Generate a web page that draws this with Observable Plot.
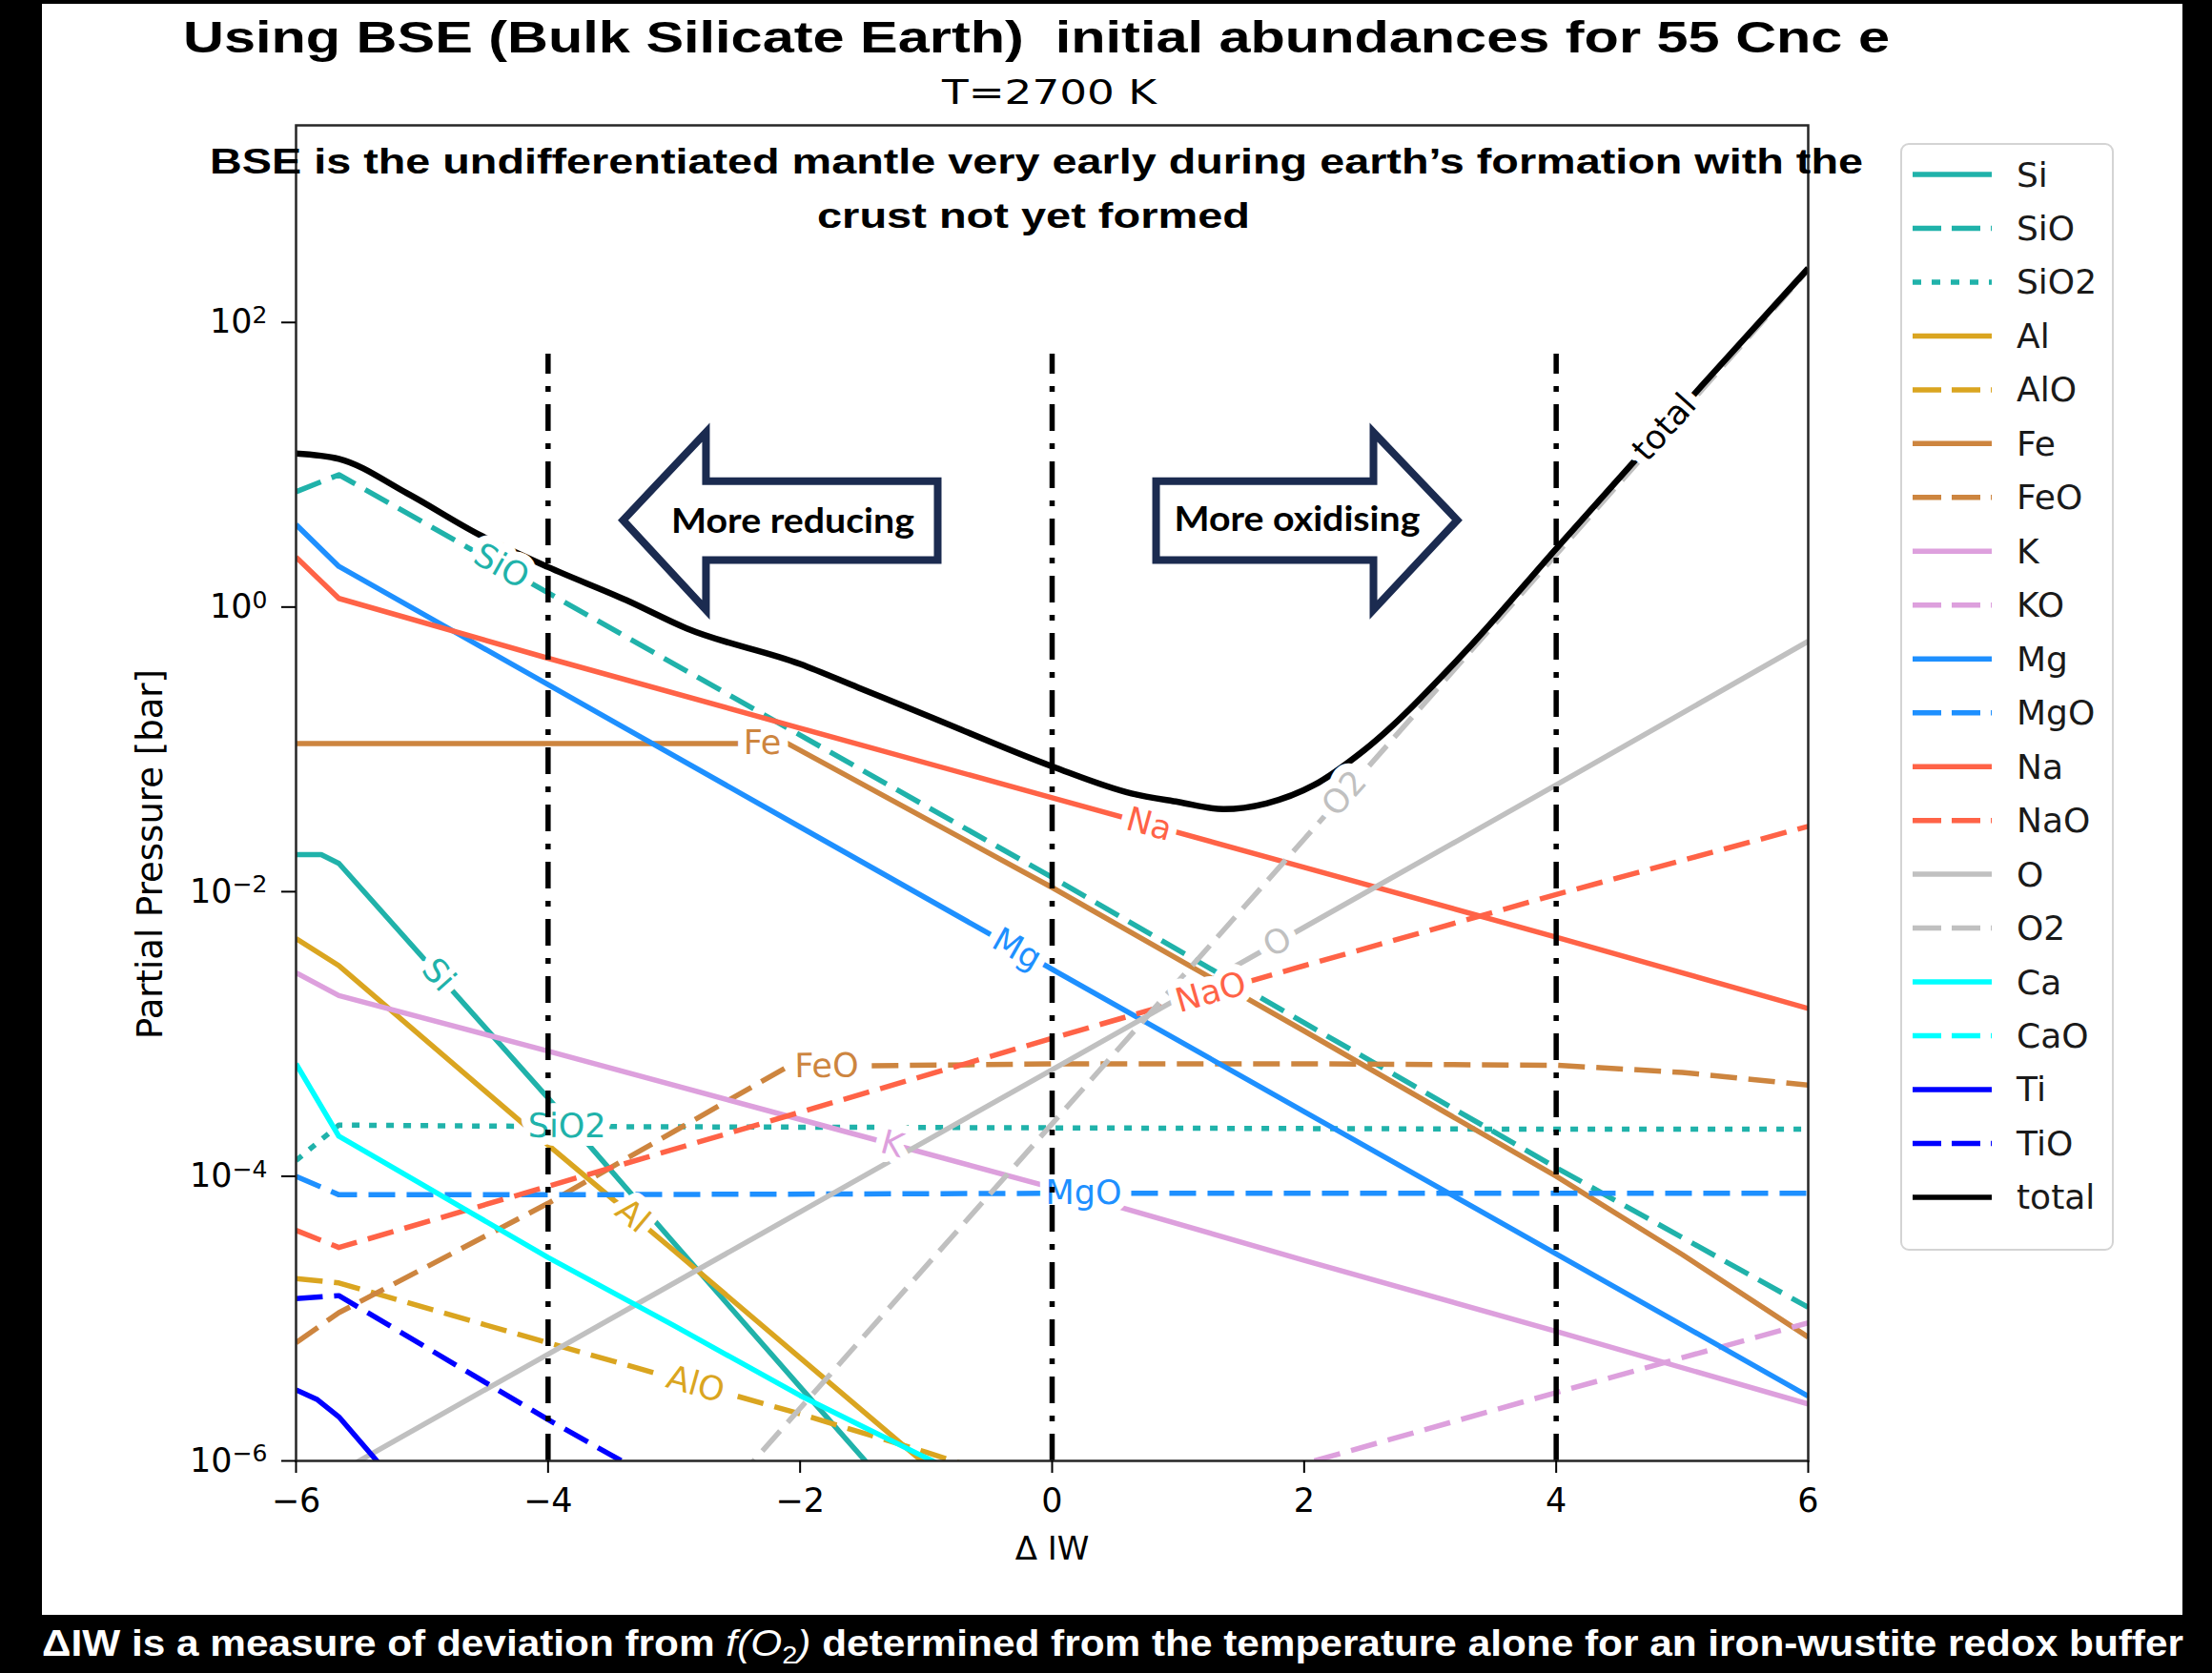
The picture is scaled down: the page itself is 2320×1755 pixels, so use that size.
<!DOCTYPE html>
<html><head><meta charset="utf-8">
<script src="https://cdn.jsdelivr.net/npm/d3@7"></script>
<script src="https://cdn.jsdelivr.net/npm/@observablehq/plot@0.6"></script>
<style>
html,body{margin:0;padding:0;background:#000;}
body{width:2320px;height:1755px;position:relative;overflow:hidden;}
#paper{position:absolute;left:44px;top:4px;width:2245px;height:1690px;background:#fff;}
#chart,#legend,#overlay{position:absolute;left:0;top:0;}
#overlay{pointer-events:none;}
</style></head><body>
<div id="paper"></div>
<div id="chart"></div>
<svg id="legend" width="2320" height="1755"></svg>
<svg id="overlay" width="2320" height="1755"></svg>
<script>
// ---------------- data (ΔIW, partial pressure in bar) ----------------
const Si_dIW = [-6, -5.8, -5.66, -4, -3, -2, -1.2];
const Si_P   = [1.82e-2, 1.82e-2, 1.58e-2, 3.55e-4, 3.39e-5, 3.31e-6, 5.2e-7];
const SiO_dIW = [-6, -5.66, -4, -2, 0, 2, 4, 6];
const SiO_P   = [6.46, 8.51, 1.26, 0.126, 1.26e-2, 1.20e-3, 1.15e-4, 1.20e-5];
const SiO2_dIW = [-6, -5.66, -4, 0, 4, 6];
const SiO2_P   = [1.29e-4, 2.29e-4, 2.24e-4, 2.19e-4, 2.14e-4, 2.14e-4];
const Al_dIW = [-6, -5.66, -4, -3, -2, -1];
const Al_P   = [4.68e-3, 3.02e-3, 1.66e-4, 3.0e-5, 5.3e-6, 9.4e-7];
const AlO_dIW = [-6, -5.66, -4, -3, -2, -1, -0.5];
const AlO_P   = [1.91e-5, 1.78e-5, 6.76e-6, 3.80e-6, 2.14e-6, 1.15e-6, 8.3e-7];
const Fe_dIW = [-6, -2.1, 0, 2, 4, 5, 6];
const Fe_P   = [0.110, 0.110, 1.07e-2, 1.05e-3, 1.0e-4, 2.82e-5, 7.41e-6];
const FeO_dIW = [-6, -5.66, -4, -2.1, 0, 2, 4, 5, 6];
const FeO_P   = [6.76e-6, 1.10e-5, 6.46e-5, 5.89e-4, 6.17e-4, 6.17e-4, 6.03e-4, 5.37e-4, 4.37e-4];
const K_dIW = [-6, -5.66, -4, -2, 0, 2, 4, 6];
const K_P   = [2.69e-3, 1.86e-3, 7.59e-4, 2.51e-4, 8.32e-5, 2.57e-5, 8.13e-6, 2.51e-6];
const KO_dIW = [1.5, 2, 4, 6];
const KO_P   = [7.08e-7, 9.55e-7, 3.02e-6, 9.33e-6];
const Mg_dIW = [-6, -5.66, -4, -2, 0, 2, 4, 6];
const Mg_P   = [3.80, 1.93, 0.285, 2.85e-2, 2.85e-3, 2.85e-4, 2.85e-5, 2.85e-6];
const MgO_dIW = [-6, -5.66, -4, 0, 4, 6];
const MgO_P   = [1.0e-4, 7.41e-5, 7.41e-5, 7.59e-5, 7.59e-5, 7.59e-5];
const Na_dIW = [-6, -5.66, -4, -2, 0, 2, 4, 6];
const Na_P   = [2.24, 1.15, 0.437, 0.141, 4.57e-2, 1.48e-2, 4.79e-3, 1.51e-3];
const NaO_dIW = [-6, -5.66, -4, -2, 0, 2, 4, 6];
const NaO_P   = [4.17e-5, 3.16e-5, 8.51e-5, 2.82e-4, 9.33e-4, 3.02e-3, 9.55e-3, 2.88e-2];
const O_dIW = [-5.6, -4, -2, 0, 2, 4, 6];
const O_P   = [8.9e-7, 5.62e-6, 5.62e-5, 5.62e-4, 5.62e-3, 5.62e-2, 0.575];
const O2_dIW = [-2.5, 0, 2, 4, 6];
const O2_P   = [7.4e-7, 2.34e-4, 2.34e-2, 2.34, 234];
const Ca_dIW = [-6, -5.66, -4, -3, -2, -1, -0.6];
const Ca_P   = [6.17e-4, 1.91e-4, 2.69e-5, 8.91e-6, 2.88e-6, 1.05e-6, 7.08e-7];
const CaO_dIW = [];
const CaO_P   = [];
const Ti_dIW = [-6, -5.83, -5.66, -5.3];
const Ti_P   = [3.16e-6, 2.69e-6, 2.04e-6, 8.7e-7];
const TiO_dIW = [-6, -5.66, -4, -3];
const TiO_P   = [1.38e-5, 1.45e-5, 1.95e-6, 6.2e-7];
const total_dIW = [-6, -5.66, -5.12, -4.55, -4, -3.38, -2.9, -2, -1.54, -1, 0, 0.63, 1.0, 1.36, 1.7, 2.08, 2.47, 3.25, 4, 5.15, 6];
const total_P   = [12.0, 11.0, 6.31, 3.24, 1.91, 1.12, 0.708, 0.398, 0.272, 0.174, 7.59e-2, 4.90e-2, 4.27e-2, 3.80e-2, 4.17e-2, 5.62e-2, 9.77e-2, 0.457, 2.57, 35.5, 240];

const species = ["Si","SiO","SiO2","Al","AlO","Fe","FeO","K","KO","Mg","MgO","Na","NaO","O","O2","Ca","CaO","Ti","TiO","total"];
const speciesColor = ["#20b2aa","#20b2aa","#20b2aa","#daa520","#daa520","#cd853f","#cd853f","#dda0dd","#dda0dd","#1e90ff","#1e90ff","#ff6347","#ff6347","#c0c0c0","#c0c0c0","#00ffff","#00ffff","#0000ff","#0000ff","#000000"];
const speciesStyle = ["solid","dashed","dotted","solid","dashed","solid","dashed","solid","dashed","solid","dashed","solid","dashed","solid","dashed","solid","dashed","solid","dashed","solid"];
const seriesX = {Si:Si_dIW,SiO:SiO_dIW,SiO2:SiO2_dIW,Al:Al_dIW,AlO:AlO_dIW,Fe:Fe_dIW,FeO:FeO_dIW,K:K_dIW,KO:KO_dIW,Mg:Mg_dIW,MgO:MgO_dIW,Na:Na_dIW,NaO:NaO_dIW,O:O_dIW,O2:O2_dIW,Ca:Ca_dIW,CaO:CaO_dIW,Ti:Ti_dIW,TiO:TiO_dIW,total:total_dIW};
const seriesP = {Si:Si_P,SiO:SiO_P,SiO2:SiO2_P,Al:Al_P,AlO:AlO_P,Fe:Fe_P,FeO:FeO_P,K:K_P,KO:KO_P,Mg:Mg_P,MgO:MgO_P,Na:Na_P,NaO:NaO_P,O:O_P,O2:O2_P,Ca:Ca_P,CaO:CaO_P,Ti:Ti_P,TiO:TiO_P,total:total_P};

// inline line labels: which series, at which ΔIW
const labelSpecies = ["SiO","Si","Fe","Na","Mg","NaO","FeO","SiO2","K","MgO","Al","AlO","O2","O","total"];
const labelAt      = [-4.37,-4.87,-2.30,0.77,-0.28,1.26,-1.79,-3.85,-1.27,0.25,-3.33,-2.83,2.32,1.79,4.86];

// axes
const xTicks = [-6,-4,-2,0,2,4,6];
const yTicks = [1e2,1e0,1e-2,1e-4,1e-6];
const xDomain = [-6, 6];
const yDomain = [1e-6, 2427];
const xAxisLabel = "\u0394 IW";
const yAxisLabel = "Partial Pressure [bar]";
const vlineX = [-4, 0, 4];
const vlineTop = 60;

// annotation arrows (ΔIW, bar)
const arrowReducing_dIW = [-0.908,-0.908,-2.747,-2.747,-3.405,-2.747,-2.747,-0.908,-0.908];
const arrowReducing_P   = [4.0,7.67,7.67,16.9,4.08,0.957,2.14,2.14,4.0];
const arrowOxidising_dIW = [0.825,0.825,2.55,2.55,3.215,2.55,2.55,0.825,0.825];
const arrowOxidising_P   = [4.0,7.67,7.67,16.9,4.08,0.957,2.14,2.14,4.0];
const arrowTexts = ["More reducing","More oxidising"];
const arrowText_dIW = [-2.058, 1.944];
const arrowText_P = [3.96, 4.08];

// ---------------- layout ----------------
const W = 2320, H = 1755, mL = 310, mR = 424, mT = 131, mB = 223;
const pxPerUnit = (W - mL - mR) / (xDomain[1] - xDomain[0]);
const pxPerDecade = (H - mT - mB) / (Math.log10(yDomain[1]) - Math.log10(yDomain[0]));
const dashFor = s => s === "dashed" ? "28,12" : s === "dotted" ? "8,10" : undefined;
const fmtX = d => d < 0 ? "\u2212" + (-d) : String(d);
const fmtExp = d => String(Math.round(Math.log10(d))).replace("-", "\u2212");

function interp(xs, ps, x) {
  for (let i = 0; i < xs.length - 1; i++) {
    if (x >= xs[i] && x <= xs[i+1]) {
      const l0 = Math.log10(ps[i]), l1 = Math.log10(ps[i+1]);
      const t = (x - xs[i]) / (xs[i+1] - xs[i]);
      return {p: 10 ** (l0 + t * (l1 - l0)), slope: (l1 - l0) / (xs[i+1] - xs[i])};
    }
  }
  return null;
}

const lineMarks = species.map((s, i) => {
  const rows = seriesX[s].map((x, j) => ({x, p: seriesP[s][j]}));
  return Plot.line(rows, {
    x: "x", y: "p", stroke: speciesColor[i],
    strokeWidth: s === "total" ? 6.5 : 5.5,
    strokeDasharray: dashFor(speciesStyle[i]),
    strokeLinecap: "butt", strokeLinejoin: "round",
    curve: s === "total" ? "monotone-x" : "linear", clip: true
  });
});

const labelRows = labelSpecies.map((s, k) => {
  const r = interp(seriesX[s], seriesP[s], labelAt[k]);
  return {x: labelAt[k], p: r.p, text: s, color: speciesColor[species.indexOf(s)],
          rotate: -Math.atan(r.slope * pxPerDecade / pxPerUnit) * 180 / Math.PI};
});

const arrowMark = (xs, ps) => Plot.line(xs.map((x, j) => ({x, p: ps[j]})),
  {x: "x", y: "p", stroke: "#1b2b50", strokeWidth: 8, strokeLinejoin: "miter", strokeMiterlimit: 10});

const plot = Plot.plot({
  width: W, height: H,
  marginLeft: mL, marginRight: mR, marginTop: mT, marginBottom: mB,
  style: {background: "transparent", fontFamily: "DejaVu Sans", fontSize: "35px", color: "black", overflow: "visible"},
  x: {domain: xDomain},
  y: {type: "log", domain: yDomain},
  color: {type: "identity"},
  marks: [
    ...lineMarks,
    arrowMark(arrowReducing_dIW, arrowReducing_P),
    arrowMark(arrowOxidising_dIW, arrowOxidising_P),
    Plot.text(arrowTexts.map((t, k) => ({t, x: arrowText_dIW[k], p: arrowText_P[k]})),
      {x: "x", y: "p", text: "t", fontFamily: "Lato", fontWeight: "bold", fontSize: 36, fill: "black"}),
    Plot.text(labelRows, {x: "x", y: "p", text: "text", fill: "color", rotate: "rotate",
      stroke: "white", strokeWidth: 18, strokeLinejoin: "round", fontSize: 35, fontFamily: "DejaVu Sans"}),
    Plot.ruleX(vlineX, {y1: yDomain[0], y2: vlineTop, stroke: "black", strokeWidth: 5.5, strokeDasharray: "28,13,6,13"}),
    Plot.frame({stroke: "#262626", strokeWidth: 2.5}),
    Plot.axisX({ticks: xTicks, tickFormat: fmtX, tickSize: 13, tickPadding: 16, strokeWidth: 2, fontSize: 35, label: null}),
    Plot.axisY({ticks: yTicks, tickFormat: fmtExp, tickSize: 15, tickPadding: 15, strokeWidth: 2, fontSize: 35, label: null}),
    Plot.text([xAxisLabel], {frameAnchor: "bottom", lineAnchor: "middle", textAnchor: "middle", dy: 93, fontSize: 34, fill: "black"}),
    Plot.text([yAxisLabel], {frameAnchor: "left", textAnchor: "middle", lineAnchor: "middle", rotate: -90, dx: -152, dy: 64, fontSize: 37, fill: "black"})
  ]
});
document.getElementById("chart").appendChild(plot);

// stretch arrow captions to the reference widths
const arrowTextWidths = [255, 258];
plot.querySelectorAll("text").forEach(el => {
  const k = arrowTexts.indexOf(el.textContent);
  if (k >= 0) { el.setAttribute("textLength", arrowTextWidths[k]); el.setAttribute("lengthAdjust", "spacingAndGlyphs"); }
});
// y tick labels as 10 with a raised exponent
plot.querySelectorAll('[aria-label="y-axis tick label"] text').forEach(el => {
  const e = el.textContent;
  el.textContent = "10";
  const ts = document.createElementNS("http://www.w3.org/2000/svg", "tspan");
  ts.setAttribute("dy", "-0.42em");
  ts.setAttribute("font-size", "25");
  ts.textContent = e;
  el.appendChild(ts);
});

// ---------------- legend ----------------
const lg = d3.select("#legend");
lg.append("rect").attr("x", 1994).attr("y", 151).attr("width", 222).attr("height", 1160)
  .attr("rx", 8).attr("fill", "white").attr("stroke", "#d4d4d4").attr("stroke-width", 2);
species.forEach((s, i) => {
  const y = 183 + i * 56.47;
  lg.append("line").attr("x1", 2006).attr("x2", 2089).attr("y1", y).attr("y2", y)
    .attr("stroke", speciesColor[i]).attr("stroke-width", 5.5)
    .attr("stroke-dasharray", speciesStyle[i] === "dashed" ? "30,11" : speciesStyle[i] === "dotted" ? "9,11" : null);
  lg.append("text").attr("x", 2115).attr("y", y).attr("dominant-baseline", "central")
    .attr("font-family", "DejaVu Sans").attr("font-size", 36).attr("fill", "#1a1a1a").text(s);
});

// ---------------- titles, notes, caption ----------------
const titleText = "Using BSE (Bulk Silicate Earth)  initial abundances for 55 Cnc e";
const subtitleText = "T=2700 K";
const noteLines = ["BSE is the undifferentiated mantle very early during earth\u2019s formation with the", "crust not yet formed"];
const ov = d3.select("#overlay");
ov.append("text").attr("x", 192).attr("y", 55).attr("textLength", 1790).attr("lengthAdjust", "spacingAndGlyphs")
  .attr("font-family", "Liberation Sans, Arial, sans-serif").attr("font-weight", "bold").attr("font-size", 47)
  .style("white-space", "pre").text(titleText);
ov.append("text").attr("x", 988).attr("y", 109).attr("textLength", 225).attr("lengthAdjust", "spacingAndGlyphs")
  .attr("font-family", "DejaVu Sans").attr("font-size", 36).text(subtitleText);
ov.append("text").attr("x", 220).attr("y", 182).attr("textLength", 1734).attr("lengthAdjust", "spacingAndGlyphs")
  .attr("font-family", "Liberation Sans, Arial, sans-serif").attr("font-weight", "bold").attr("font-size", 37).text(noteLines[0]);
ov.append("text").attr("x", 857).attr("y", 239).attr("textLength", 454).attr("lengthAdjust", "spacingAndGlyphs")
  .attr("font-family", "Liberation Sans, Arial, sans-serif").attr("font-weight", "bold").attr("font-size", 37).text(noteLines[1]);
const cap = ov.append("text").attr("x", 44).attr("y", 1737).attr("textLength", 2246).attr("lengthAdjust", "spacingAndGlyphs")
  .attr("font-family", "Liberation Sans, Arial, sans-serif").attr("font-weight", "bold").attr("font-size", 38).attr("fill", "white");
cap.append("tspan").text("\u0394IW is a measure of deviation from ");
cap.append("tspan").attr("font-style", "italic").attr("font-weight", "normal").text("f(O");
cap.append("tspan").attr("font-weight", "normal").attr("font-size", 26).attr("dy", 8).text("2");
cap.append("tspan").attr("font-style", "italic").attr("font-weight", "normal").attr("dy", -8).text(")");
cap.append("tspan").text(" determined from the temperature alone for an iron-wustite redox buffer");
</script></body></html>
